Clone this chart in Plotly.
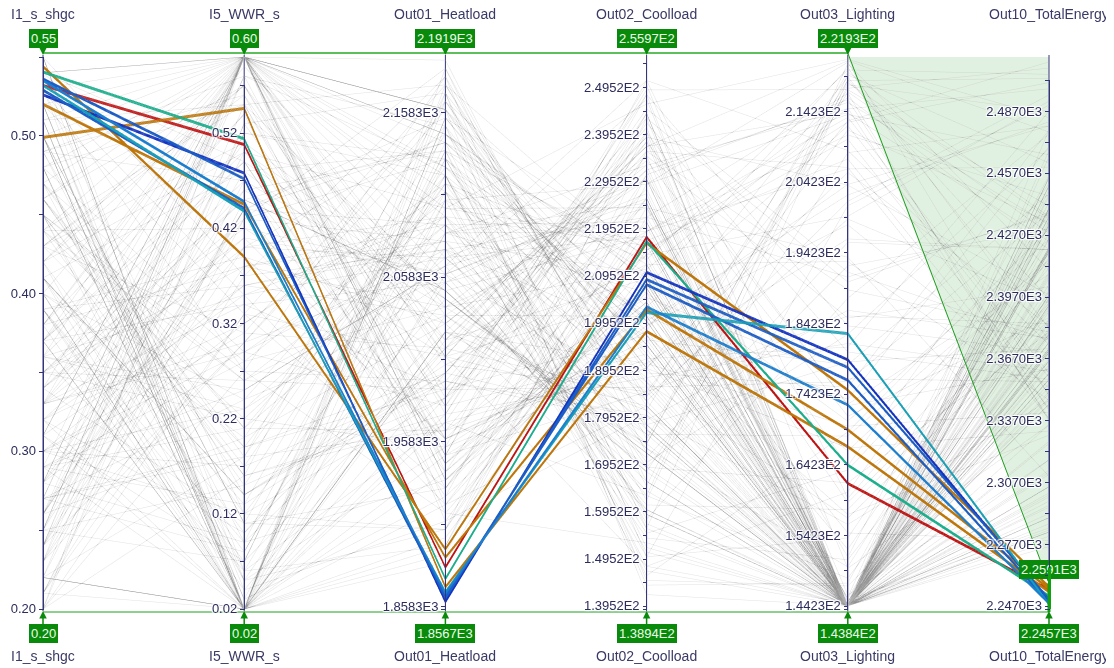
import math
import plotly.graph_objects as go

# ---------------- axes / dimensions ----------------
names = ["I1_s_shgc", "I5_WWR_s", "Out01_Heatload", "Out02_Coolload",
         "Out03_Lighting", "Out10_TotalEnergy"]
ranges = [[0.20, 0.55], [0.02, 0.60], [1856.7, 2191.9], [138.94, 255.97],
          [143.84, 221.93], [2245.7, 2513.4]]
top_box = ["0.55", "0.60", "2.1919E3", "2.5597E2", "2.2193E2", "2.2591E3"]
bottom_box = ["0.20", "0.02", "1.8567E3", "1.3894E2", "1.4384E2", "2.2457E3"]
brush_total = [2245.7, 2259.1]        # brush shown on Out10_TotalEnergy
filter_total = [2245.7, 2263.0]       # filter handed to plotly (snaps to ticks)

tick_start = [0.20, 0.02, 1858.3, 139.52, 144.23, 2247.0]
tick_step = [0.10, 0.10, 100.0, 10.0, 10.0, 30.0]
tick_count = [4, 6, 4, 12, 8, 9]

# ---------------- highlighted (selected) designs ----------------
sel_shgc = [0.532, 0.5405, 0.544, 0.520, 0.499, 0.526, 0.536, 0.529, 0.535, 0.532]
sel_wwr = [0.508, 0.514, 0.390, 0.445, 0.546, 0.478, 0.472, 0.441, 0.448, 0.438]
sel_heat = [1882, 1875, 1893, 1888, 1870, 1861, 1863, 1864, 1866, 1867]
sel_cool = [217.8, 216.9, 216.5, 202.4, 197.8, 210.3, 208.8, 207.7, 203.0, 201.8]
sel_light = [161.6, 164.2, 174.8, 169.2, 166.8, 179.1, 178.0, 176.2, 172.7, 182.8]
sel_total = [2255.0, 2252.0, 2256.5, 2255.5, 2254.0, 2249.5, 2250.5, 2249.0, 2248.5, 2248.0]
sel_color = [1, 3, 2, 2, 2, 4, 5, 5, 7, 6]
line_colors = ["#bdbdbd", "#c21010", "#c07606", "#16b08e", "#1232c2",
               "#1c5ec8", "#16a2b8", "#1a7fd0"]

# ---------------- background (unselected) designs ----------------
bg_shgc = [0.21, 0.34, 0.47, 0.28, 0.52, 0.39, 0.25, 0.44, 0.31, 0.50,
           0.23, 0.37, 0.54, 0.29, 0.42, 0.33, 0.48, 0.26, 0.41, 0.36,
           0.53, 0.22, 0.45, 0.30, 0.38, 0.27, 0.51, 0.35, 0.43, 0.24,
           0.49, 0.32, 0.40, 0.55, 0.20, 0.46, 0.28, 0.37, 0.52, 0.33,
           0.25, 0.44, 0.30, 0.48, 0.22, 0.39, 0.35, 0.54, 0.27, 0.42,
           0.31, 0.50, 0.23, 0.45, 0.38, 0.29, 0.47, 0.34, 0.21, 0.41,
           0.53, 0.26, 0.36, 0.49, 0.32, 0.44, 0.24, 0.40, 0.51, 0.28,
           0.37, 0.46, 0.20, 0.33, 0.55, 0.30, 0.43, 0.25, 0.48, 0.35,
           0.22, 0.39, 0.52, 0.27, 0.45, 0.31, 0.50, 0.36, 0.23, 0.42,
           0.34, 0.47, 0.29, 0.54, 0.38, 0.26, 0.41, 0.32, 0.49, 0.21,
           0.44, 0.35, 0.28, 0.51, 0.40, 0.24, 0.46, 0.33, 0.53, 0.30,
           0.37, 0.22, 0.48, 0.43, 0.27, 0.50, 0.36, 0.25, 0.45, 0.39,
           0.26, 0.41, 0.33, 0.50, 0.22, 0.46, 0.37, 0.29, 0.54, 0.31,
           0.44, 0.20, 0.39, 0.52, 0.27, 0.35, 0.48, 0.24, 0.42, 0.30,
           0.53, 0.36, 0.21, 0.45, 0.32, 0.49, 0.25, 0.40, 0.55, 0.28,
           0.38, 0.47, 0.23, 0.34, 0.51, 0.43, 0.26, 0.37, 0.20, 0.46,
           0.31, 0.54, 0.29, 0.41, 0.22, 0.49, 0.35, 0.27, 0.44, 0.52,
           0.33, 0.24, 0.47, 0.39, 0.21, 0.50, 0.30, 0.43, 0.36, 0.25,
           0.53, 0.28, 0.40, 0.45, 0.23, 0.34, 0.48, 0.32, 0.51, 0.38,
           0.26, 0.42, 0.55, 0.29, 0.37, 0.20, 0.46, 0.33, 0.24, 0.41]
bg_wwr = [0.02, 0.45, 0.18, 0.60, 0.33, 0.07, 0.52, 0.26, 0.60, 0.11,
          0.38, 0.02, 0.49, 0.21, 0.57, 0.30, 0.02, 0.43, 0.14, 0.60,
          0.27, 0.55, 0.05, 0.36, 0.60, 0.19, 0.02, 0.47, 0.31, 0.58,
          0.09, 0.41, 0.24, 0.02, 0.53, 0.16, 0.60, 0.34, 0.04, 0.46,
          0.60, 0.12, 0.29, 0.55, 0.02, 0.39, 0.22, 0.60, 0.08, 0.50,
          0.35, 0.02, 0.44, 0.17, 0.59, 0.28, 0.06, 0.60, 0.37, 0.13,
          0.02, 0.48, 0.25, 0.56, 0.10, 0.42, 0.60, 0.20, 0.03, 0.32,
          0.54, 0.15, 0.60, 0.40, 0.02, 0.23, 0.51, 0.07, 0.60, 0.45,
          0.18, 0.36, 0.02, 0.58, 0.27, 0.60, 0.11, 0.49, 0.30, 0.02,
          0.43, 0.21, 0.60, 0.05, 0.38, 0.52, 0.14, 0.02, 0.47, 0.33,
          0.60, 0.26, 0.09, 0.55, 0.02, 0.40, 0.19, 0.60, 0.35, 0.12,
          0.50, 0.02, 0.29, 0.57, 0.24, 0.60, 0.06, 0.44, 0.16, 0.02,
          0.60, 0.08, 0.34, 0.02, 0.47, 0.21, 0.60, 0.13, 0.39, 0.02,
          0.55, 0.27, 0.04, 0.60, 0.18, 0.42, 0.02, 0.50, 0.10, 0.31,
          0.60, 0.23, 0.45, 0.02, 0.36, 0.58, 0.15, 0.60, 0.06, 0.40,
          0.02, 0.28, 0.53, 0.11, 0.60, 0.19, 0.44, 0.02, 0.33, 0.57,
          0.07, 0.60, 0.25, 0.48, 0.02, 0.14, 0.38, 0.60, 0.22, 0.03,
          0.51, 0.30, 0.60, 0.09, 0.43, 0.02, 0.17, 0.56, 0.35, 0.60,
          0.12, 0.46, 0.02, 0.26, 0.60, 0.41, 0.05, 0.32, 0.02, 0.54,
          0.20, 0.60, 0.37, 0.02, 0.49, 0.16, 0.60, 0.29, 0.44, 0.02]
bg_heat = [2185, 2050, 1965, 2160, 1930, 2010, 2120, 1990, 2140, 1905,
           2090, 2025, 1945, 2110, 1980, 2065, 1920, 2130, 2000, 2070,
           1915, 2175, 1955, 2080, 2100, 2115, 1895, 2045, 2015, 2150,
           1935, 2060, 2035, 1890, 2170, 1975, 2145, 2055, 1910, 2040,
           2125, 1985, 2075, 1960, 2165, 2030, 2085, 1950, 2105, 2020,
           2095, 1900, 2155, 1995, 2060, 2105, 1970, 2120, 2180, 2000,
           1940, 2135, 2065, 1990, 2045, 2010, 2160, 2030, 1925, 2115,
           2055, 1985, 2190, 2070, 1885, 2090, 1960, 2140, 1975, 2050,
           2165, 2035, 1950, 2125, 1995, 2085, 1930, 2045, 2150, 2020,
           2080, 1965, 2110, 1905, 2040, 2130, 2005, 2100, 1955, 2175,
           2015, 2060, 2135, 1945, 2025, 2145, 1990, 2095, 1920, 2075,
           2050, 2155, 1980, 2010, 2120, 1935, 2085, 2140, 1970, 2035,
           2035, 2110, 1990, 2150, 1925, 2070, 2005, 2130, 1960, 2085,
           2045, 2180, 2015, 1940, 2125, 2060, 1970, 2100, 2025, 2165,
           1910, 2055, 2140, 1985, 2075, 1950, 2115, 2020, 1895, 2095,
           2170, 2040, 1980, 2120, 1935, 2000, 2090, 2155, 2010, 1965,
           2135, 1920, 2065, 2030, 2175, 1995, 2080, 2145, 1955, 2105,
           2050, 2160, 1945, 2015, 2185, 1975, 2120, 1930, 2070, 2040,
           1905, 2135, 2000, 2090, 2160, 1960, 2055, 2110, 2025, 1915,
           2145, 1985, 2075, 2130, 1950, 2170, 2010, 2095, 1940, 2060]
bg_cool = [175, 168, 205, 190, 226, 239, 151, 197, 212, 224,
           221, 181, 214, 146, 238, 163, 219, 195, 179, 230,
           208, 183, 251, 160, 217, 201, 229, 172, 243, 187,
           199, 226, 169, 231, 142, 188, 209, 220, 215, 176,
           198, 245, 154, 192, 184, 233, 206, 185, 150, 239,
           216, 211, 193, 178, 227, 202, 190, 157, 177, 236,
           207, 147, 224, 186, 171, 241, 182, 234, 203, 213,
           164, 248, 172, 218, 222, 155, 196, 200, 244, 166,
           189, 230, 198, 207, 180, 225, 212, 173, 144, 237,
           210, 191, 156, 217, 235, 200, 185, 246, 201, 178,
           232, 161, 214, 204, 174, 195, 240, 159, 209, 222,
           169, 190, 250, 182, 148, 208, 219, 197, 242, 174,
           201, 183, 228, 165, 240, 176, 212, 158, 195, 233,
           172, 150, 219, 204, 186, 247, 163, 224, 191, 208,
           180, 230, 152, 214, 197, 244, 170, 209, 236, 188,
           156, 222, 193, 169, 206, 238, 177, 215, 148, 226,
           199, 182, 251, 160, 213, 235, 174, 203, 190, 229,
           218, 145, 207, 184, 166, 249, 196, 221, 178, 211,
           243, 159, 232, 187, 200, 217, 168, 194, 237, 153,
           210, 225, 181, 162, 248, 192, 205, 173, 231, 185]
bg_light = [217.5, 144.3, 176.4, 144.3, 145.1, 203.8, 144.3, 157.2, 144.3, 193.6,
            144.3, 219.8, 144.3, 168.9, 144.3, 148.2, 213.4, 144.3, 186.1, 144.3,
            154.6, 144.3, 208.7, 144.6, 144.3, 173.5, 221.2, 144.3, 145.8, 144.3,
            198.2, 144.3, 161.7, 215.9, 144.3, 181.4, 144.3, 144.9, 210.3, 144.3,
            144.3, 191.5, 150.8, 144.3, 218.6, 144.3, 166.2, 144.3, 200.9, 144.3,
            144.5, 214.7, 144.3, 178.8, 144.3, 152.3, 205.6, 144.3, 144.3, 189.0,
            220.4, 144.3, 158.9, 144.3, 195.7, 144.3, 144.3, 171.1, 212.2, 145.3,
            144.3, 183.9, 144.3, 144.3, 216.8, 163.5, 144.3, 202.4, 144.3, 144.3,
            175.2, 144.4, 219.1, 144.3, 155.8, 144.3, 193.0, 144.3, 147.5, 214.0,
            144.3, 169.7, 144.3, 207.5, 144.3, 144.3, 185.3, 221.6, 144.3, 144.7,
            144.3, 157.9, 199.4, 144.3, 217.0, 144.3, 172.6, 144.3, 144.3, 190.8,
            144.3, 212.9, 149.6, 144.3, 160.4, 144.3, 206.1, 144.3, 180.2, 218.3,
            144.3, 201.5, 144.3, 219.4, 144.3, 168.3, 144.3, 187.8, 144.3, 214.6,
            144.3, 153.9, 210.9, 144.3, 176.0, 144.3, 221.0, 144.3, 196.2, 145.5,
            144.3, 164.1, 144.3, 216.2, 144.3, 144.3, 182.7, 144.3, 206.3, 144.3,
            218.0, 151.2, 144.3, 192.4, 144.3, 172.8, 144.3, 212.7, 144.6, 144.3,
            203.9, 144.3, 159.5, 144.3, 220.1, 185.0, 144.3, 144.3, 166.6, 213.8,
            144.3, 147.1, 144.3, 199.0, 144.3, 217.3, 178.4, 144.3, 144.3, 144.3,
            190.1, 144.3, 215.5, 156.7, 144.3, 144.3, 208.4, 144.9, 221.4, 144.3,
            170.4, 144.3, 144.3, 218.7, 144.3, 180.9, 144.3, 149.8, 144.3, 211.6]
bg_total = [2508, 2372, 2356, 2465, 2285, 2398, 2420, 2330, 2432, 2310,
            2403, 2436, 2278, 2430, 2305, 2391, 2360, 2421, 2377, 2386,
            2279, 2447, 2374, 2392, 2408, 2470, 2349, 2371, 2318, 2433,
            2353, 2379, 2380, 2342, 2446, 2361, 2434, 2379, 2350, 2370,
            2419, 2376, 2394, 2290, 2503, 2363, 2414, 2283, 2490, 2360,
            2409, 2338, 2440, 2372, 2381, 2416, 2383, 2419, 2449, 2380,
            2376, 2428, 2396, 2312, 2420, 2348, 2439, 2387, 2358, 2420,
            2378, 2370, 2455, 2385, 2337, 2418, 2296, 2482, 2301, 2375,
            2478, 2366, 2382, 2421, 2347, 2396, 2347, 2372, 2440, 2424,
            2393, 2341, 2414, 2343, 2370, 2425, 2384, 2484, 2290, 2451,
            2351, 2394, 2492, 2281, 2428, 2436, 2362, 2406, 2287, 2437,
            2375, 2511, 2335, 2298, 2437, 2276, 2460, 2432, 2357, 2435,
            2380, 2495, 2440, 2462, 2305, 2415, 2350, 2476, 2300, 2498,
            2360, 2425, 2446, 2345, 2438, 2451, 2410, 2393, 2420, 2468,
            2284, 2452, 2436, 2420, 2364, 2390, 2469, 2327, 2338, 2384,
            2487, 2456, 2318, 2430, 2335, 2408, 2367, 2501, 2295, 2345,
            2480, 2292, 2411, 2357, 2505, 2402, 2400, 2443, 2332, 2466,
            2398, 2353, 2302, 2394, 2478, 2441, 2447, 2382, 2326, 2355,
            2438, 2347, 2432, 2386, 2455, 2311, 2480, 2398, 2477, 2283,
            2425, 2371, 2407, 2396, 2357, 2487, 2366, 2420, 2313, 2433]

# ---------------- styling ----------------
OFF = 8                                # body margin of the html page
W, H = 1114 - OFF, 668 - OFF
M_L, M_R, M_T, M_B = 43 - OFF, 73 - OFF, 55 - OFF, 57
plot_h = H - M_T - M_B
px = 1.0 / plot_h                      # one pixel in paper units (vertical)
tick_col = "#2c2c5c"
axis_col = "#34347a"
font_fam = "Liberation Sans, Arial, sans-serif"
box_green = "#0a8a0a"
invisible = "rgba(0,0,0,0)"
halo = [-1.2, -0.6, 0.0, 0.6, 1.2]     # pixel offsets to thicken highlighted lines


def fmt(v, j):
    if j < 2:
        return f"{v:.2f}"
    e = int(math.floor(math.log10(abs(v))))
    return f"{v / 10 ** e:.4f}E{e}"


def ticks_for(j):
    vals, texts = [], []
    lo, hi = ranges[j]
    blank = 1
    if tick_start[j] - lo > 1e-9:
        vals.append(lo)
        texts.append("\u200b" * blank)
        blank += 1
    for k in range(tick_count[j]):
        v = round(tick_start[j] + k * tick_step[j], 4)
        vals.append(v)
        texts.append(fmt(v, j))
        m = round(v + tick_step[j] / 2, 4)
        if m <= hi + 1e-9:
            vals.append(m)
            texts.append("\u200b" * blank)
            blank += 1
    return vals, texts


sel_cols = [sel_shgc, sel_wwr, sel_heat, sel_cool, sel_light, sel_total]
bg_cols = [bg_shgc, bg_wwr, bg_heat, bg_cool, bg_light, bg_total]
all_cols = []
for j in range(len(names)):
    lo, hi = ranges[j]
    col = list(bg_cols[j])
    for h in halo:
        col += [v + h * px * (hi - lo) for v in sel_cols[j]]
    all_cols.append(col)
color_vals = [0] * len(bg_shgc) + sel_color * len(halo)
ncol = len(line_colors)
cscale = [[i / (ncol - 1), c] for i, c in enumerate(line_colors)]

dims = []
for j, nm in enumerate(names):
    tv, tt = ticks_for(j)
    dd = dict(label=nm, range=ranges[j], values=all_cols[j], tickvals=tv, ticktext=tt)
    if j == len(names) - 1:
        dd["constraintrange"] = filter_total
    dims.append(dd)

fig = go.Figure()
fig.add_trace(go.Parcoords(
    domain=dict(x=[0, 1], y=[0, 1]),
    line=dict(color=color_vals, colorscale=cscale, cmin=0, cmax=ncol - 1),
    unselected=dict(line=dict(color="#b0b0b0", opacity=0.38)),
    dimensions=dims,
    labelfont=dict(size=1, color=invisible),
    rangefont=dict(size=1, color=invisible),
    tickfont=dict(family=font_fam, size=13, color=tick_col),
))


# ---------------- brush decoration ----------------
def ypaper(j, v):
    lo, hi = ranges[j]
    return (v - lo) / (hi - lo)


n = len(names)
xs = [j / (n - 1) for j in range(n)]
y_top = 1 + 2 * px
y_bot = -1 * px
y_ct = ypaper(n - 1, brush_total[1])

shapes = [
    dict(type="path", xref="paper", yref="paper",
         path=f"M {xs[4]},{1 - 2 * px} L {xs[5]},{1 - 2 * px} L {xs[5]},{y_ct} Z",
         fillcolor="rgba(70,170,70,0.16)", line=dict(width=0), layer="below"),
]
for j in range(n):
    shapes.append(dict(type="line", xref="paper", yref="paper", x0=xs[j], x1=xs[j],
                       y0=0, y1=1, line=dict(color=axis_col, width=1), layer="below"))
shapes += [
    dict(type="line", xref="paper", yref="paper", x0=xs[0], x1=xs[4], y0=y_top, y1=y_top,
         line=dict(color="#5cbf5c", width=2)),
    dict(type="line", xref="paper", yref="paper", x0=xs[4], x1=xs[5], y0=y_top, y1=y_ct,
         line=dict(color="#1e9e1e", width=1)),
    dict(type="line", xref="paper", yref="paper", x0=xs[0], x1=xs[5], y0=y_bot, y1=y_bot,
         line=dict(color="#1e9e1e", width=1)),
    dict(type="line", xref="paper", yref="paper", x0=xs[5], x1=xs[5], y0=y_bot, y1=y_ct,
         line=dict(color="#10a010", width=3)),
]

box_font = dict(family=font_fam, size=13, color="#eaffea")
label_font = dict(family=font_fam, size=14, color="#3a3a66")
annotations = []
for j, nm in enumerate(names):
    annotations.append(dict(x=xs[j], y=1, xref="paper", yref="paper", text=nm,
                            showarrow=False, xanchor="center", yanchor="middle",
                            yshift=41, font=label_font))
    annotations.append(dict(x=xs[j], y=0, xref="paper", yref="paper", text=nm,
                            showarrow=False, xanchor="center", yanchor="middle",
                            yshift=-45, font=label_font))
    top_y = 1 if j < n - 1 else y_ct
    annotations.append(dict(x=xs[j], y=top_y, xref="paper", yref="paper", text=top_box[j],
                            showarrow=True, ax=0, ay=-17 if j < n - 1 else -14,
                            arrowhead=2, arrowsize=1, arrowwidth=1.5,
                            arrowcolor=box_green, standoff=0,
                            bgcolor=box_green, bordercolor=box_green, borderpad=1,
                            font=box_font))
    annotations.append(dict(x=xs[j], y=0, xref="paper", yref="paper", text=bottom_box[j],
                            showarrow=True, ax=0, ay=22, arrowhead=2, arrowsize=1,
                            arrowwidth=1.5, arrowcolor=box_green, standoff=0,
                            bgcolor=box_green, bordercolor=box_green, borderpad=1,
                            font=box_font))

fig.update_layout(
    width=W, height=H,
    margin=dict(l=M_L, r=M_R, t=M_T, b=M_B),
    paper_bgcolor="white", plot_bgcolor="white",
    shapes=shapes, annotations=annotations,
    font=dict(family=font_fam),
)

# restyle plotly's brush bar (green instead of magenta) and the axis strokes
css = (".js-plotly-plot .highlight{stroke:#10a010 !important;stroke-width:3px !important;}"
       ".js-plotly-plot .highlight-shadow{stroke-opacity:0 !important;}"
       ".js-plotly-plot .axis path.domain,.js-plotly-plot .axis .tick line"
       "{stroke:" + axis_col + " !important;stroke-opacity:1 !important;}")
post = ("var s=document.createElement('style');s.innerHTML='" + css + "';"
        "document.head.appendChild(s);")

fig.write_html("out.html", post_script=post)
